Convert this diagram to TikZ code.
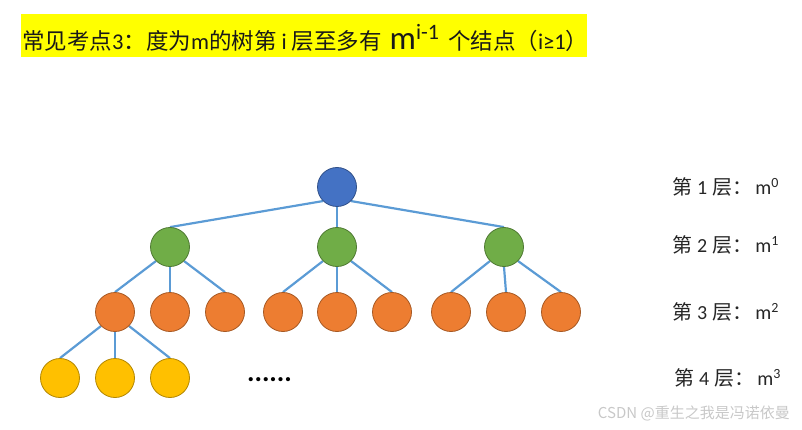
\documentclass[tikz,border=0pt]{standalone}
\usepackage{fontspec}
\setmainfont{Carlito}
\newfontfamily\cjk{Noto Sans CJK SC}
\usetikzlibrary{backgrounds}
\definecolor{tyellow}{HTML}{FFFF00}
\definecolor{nblue}{HTML}{4472C4}
\definecolor{ngreen}{HTML}{70AD47}
\definecolor{norange}{HTML}{ED7D31}
\definecolor{nyellow}{HTML}{FFC000}
\definecolor{edgeblue}{HTML}{5B9BD5}
\definecolor{wmgray}{HTML}{C8C8C8}
\tikzset{
  tnode/.style={circle, minimum size=39pt, inner sep=0pt, line width=0.8pt, fill=#1, draw=#1!70!black},
  edge/.style={draw=edgeblue, line width=2.2pt},
  lvl/.style={anchor=west, inner sep=0pt, font=\fontsize{20}{24}\selectfont, text=black!85},
}
\begin{document}
\begin{tikzpicture}[x=1pt,y=-1pt]
\useasboundingbox (0,0) rectangle (802,430);
% title
\node[fill=tyellow, minimum width=566pt, minimum height=43pt, inner sep=0pt] (tbox) at (304,35.5) {};
\node[anchor=west, inner sep=0pt, font=\fontsize{22.5}{26}\selectfont, text=black!90] (title) at (22,38)
  {{\cjk 常见考点}3{\cjk ：度为}m{\cjk 的树第}\hspace{5pt}i\hspace{5pt}{\cjk 层至多有}\hspace{8pt}{\fontsize{33}{33}\selectfont m}\raisebox{10pt}{\fontsize{22}{22}\selectfont i-1}\hspace{9pt}{\cjk 个结点（}i≥1{\cjk ）}};
% tree nodes
\node[tnode=nblue] (r) at (337,187) {};
\node[tnode=ngreen] (a1) at (170,247) {};
\node[tnode=ngreen] (a2) at (337,247) {};
\node[tnode=ngreen] (a3) at (504,247) {};
\node[tnode=norange] (b1) at (115,312) {};
\node[tnode=norange] (b2) at (170,312) {};
\node[tnode=norange] (b3) at (225,312) {};
\node[tnode=norange] (b4) at (283,312) {};
\node[tnode=norange] (b5) at (337,312) {};
\node[tnode=norange] (b6) at (392,312) {};
\node[tnode=norange] (b7) at (451,312) {};
\node[tnode=norange] (b8) at (506,312) {};
\node[tnode=norange] (b9) at (561,312) {};
\node[tnode=nyellow] (c1) at (60,378) {};
\node[tnode=nyellow] (c2) at (115,378) {};
\node[tnode=nyellow] (c3) at (170,378) {};
\node[inner sep=0pt, font=\fontsize{28}{28}\selectfont\bfseries] (dots) at (269.5,380) {......};
\begin{scope}[on background layer]
\draw[edge] (r.south west) -- (a1.north);
\draw[edge] (r.south) -- (a2.north);
\draw[edge] (r.south east) -- (a3.north);
\draw[edge] (a1.south west) -- (b1.north);
\draw[edge] (a1.south) -- (b2.north);
\draw[edge] (a1.south east) -- (b3.north);
\draw[edge] (a2.south west) -- (b4.north);
\draw[edge] (a2.south) -- (b5.north);
\draw[edge] (a2.south east) -- (b6.north);
\draw[edge] (a3.south west) -- (b7.north);
\draw[edge] (a3.south) -- (b8.north);
\draw[edge] (a3.south east) -- (b9.north);
\draw[edge] (b1.south west) -- (c1.north);
\draw[edge] (b1.south) -- (c2.north);
\draw[edge] (b1.south east) -- (c3.north);
\end{scope}
% level labels
\node[lvl] (l1) at (672,187) {{\cjk 第}\hspace{5pt}1\hspace{5pt}{\cjk 层：}\hspace{3pt}m\textsuperscript{0}};
\node[lvl] (l2) at (672,245) {{\cjk 第}\hspace{5pt}2\hspace{5pt}{\cjk 层：}\hspace{3pt}m\textsuperscript{1}};
\node[lvl] (l3) at (672,312) {{\cjk 第}\hspace{5pt}3\hspace{5pt}{\cjk 层：}\hspace{3pt}m\textsuperscript{2}};
\node[lvl] (l4) at (674,378) {{\cjk 第}\hspace{5pt}4\hspace{5pt}{\cjk 层：}\hspace{3pt}m\textsuperscript{3}};
% watermark
\node[anchor=east, inner sep=0pt, text=wmgray, font=\cjk\fontsize{15}{15}\selectfont] (wm) at (790,413) {CSDN @重生之我是冯诺依曼};
\end{tikzpicture}
\end{document}
